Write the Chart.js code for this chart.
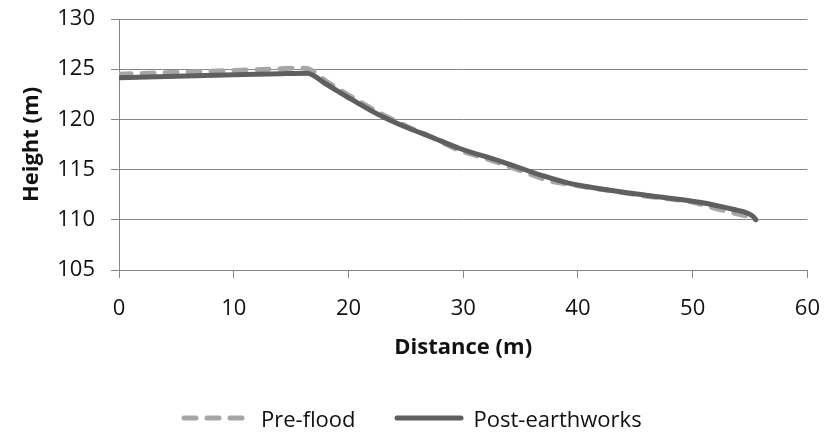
<!DOCTYPE html>
<html>
<head>
<meta charset="utf-8">
<script src="https://cdn.jsdelivr.net/npm/chart.js@4.4.0/dist/chart.umd.min.js"></script>
<style>
    body { margin: 0; background: #fff; }
    #wrap { position: relative; width: 838px; height: 434px; }
    #legend {
        position: absolute; left: 181px; top: 403px;
        display: flex; align-items: center;
        font-family: "Open Sans", sans-serif; font-size: 22px; color: #111;
    }
    #legend .item { display: flex; align-items: center; margin-right: 38px; }
    #legend svg { margin-right: 10px; }
</style>
</head>
<body>
<div id="wrap">
    <canvas id="profileChart" width="838" height="434"></canvas>
    <div id="legend"></div>
</div>
<script>
// distance (m) and height (m)
const preFloodX = [0, 4, 8, 12, 14, 16.2, 16.6, 18, 20.1, 22, 23.3, 25.3, 27, 29.5, 31.7, 33.5, 35.2, 37.5, 39.4, 42, 46, 50, 51.8, 53.5, 54.6];
const preFloodY = [124.5, 124.65, 124.8, 124.95, 125.05, 125.1, 125.0, 123.85, 122.35, 121.1, 120.3, 119.2, 118.35, 117.0, 116.2, 115.5, 114.8, 113.9, 113.5, 113.05, 112.35, 111.75, 111.2, 110.7, 110.4];

const postX = [0, 5, 10, 14, 16.4, 18, 20.1, 22, 23.3, 25.3, 27.1, 29.7, 33.2, 36.9, 39, 41.9, 46.3, 50.6, 53.5, 54.8, 55.3, 55.5];
const postY = [124.15, 124.3, 124.45, 124.55, 124.6, 123.55, 122.1, 120.85, 120.1, 119.1, 118.3, 117.1, 115.85, 114.4, 113.7, 113.1, 112.4, 111.75, 111.05, 110.65, 110.3, 110.0];

const seriesNames = ["Pre-flood", "Post-earthworks"];
const xTicks = [0, 10, 20, 30, 40, 50, 60];
const yTicks = [105, 110, 115, 120, 125, 130];

const FONT = "'Open Sans', sans-serif";
const GRID = "#868686";

function toPoints(xs, ys) {
    return xs.map((x, i) => ({ x: x, y: ys[i] }));
}

const datasets = [
    {
        label: seriesNames[0],
        data: toPoints(preFloodX, preFloodY),
        borderColor: "#a6a6a6",
        borderWidth: 5,
        borderDash: [12, 11],
        borderCapStyle: "round",
        order: 1
    },
    {
        label: seriesNames[1],
        data: toPoints(postX, postY),
        borderColor: "#5f5f5f",
        borderWidth: 5,
        borderCapStyle: "round",
        order: 0
    }
];

const chart = new Chart(document.getElementById("profileChart"), {
    type: "scatter",
    data: { datasets: datasets },
    options: {
        responsive: false,
        animation: false,
        showLine: true,
        elements: {
            point: { radius: 0, hoverRadius: 0 },
            line: { cubicInterpolationMode: "monotone", borderJoinStyle: "round", fill: false }
        },
        layout: { padding: { top: 19, right: 30, bottom: 0, left: 0 } },
        plugins: {
            legend: { display: false },
            tooltip: { enabled: false }
        },
        scales: {
            x: {
                type: "linear",
                min: xTicks[0],
                max: xTicks[xTicks.length - 1],
                afterBuildTicks: (s) => { s.ticks = xTicks.map(v => ({ value: v })); },
                afterFit: (s) => { s.height = 164; },
                grid: { drawOnChartArea: false, color: GRID, tickLength: 8 },
                border: { color: GRID },
                ticks: { color: "#111", font: { family: FONT, size: 22 }, padding: 18 },
                title: {
                    display: true, text: "Distance (m)", color: "#111",
                    font: { family: FONT, size: 22, weight: "bold" },
                    padding: { top: 0, bottom: 73 }
                }
            },
            y: {
                type: "linear",
                min: yTicks[0],
                max: yTicks[yTicks.length - 1],
                afterBuildTicks: (s) => { s.ticks = yTicks.map(v => ({ value: v })); },
                afterFit: (s) => { s.width = 119; s.paddingTop = 0; s.paddingBottom = 0; },
                grid: { color: GRID, tickLength: 8 },
                border: { color: GRID },
                ticks: { color: "#111", font: { family: FONT, size: 22 }, padding: 16 },
                title: {
                    display: true, text: "Height (m)", color: "#111",
                    font: { family: FONT, size: 22, weight: "bold" },
                    padding: { top: 19, bottom: 0 }
                }
            }
        }
    }
});

// legend built from the datasets
const legend = document.getElementById("legend");
chart.data.datasets.forEach(ds => {
    const item = document.createElement("div");
    item.className = "item";
    const dash = ds.borderDash ? `stroke-dasharray="${ds.borderDash.join(" ")}"` : "";
    item.innerHTML =
        `<svg width="70" height="10"><line x1="3" y1="5" x2="67" y2="5" stroke="${ds.borderColor}" ` +
        `stroke-width="${ds.borderWidth}" stroke-linecap="round" ${dash}/></svg><span>${ds.label}</span>`;
    legend.appendChild(item);
});
</script>
</body>
</html>
